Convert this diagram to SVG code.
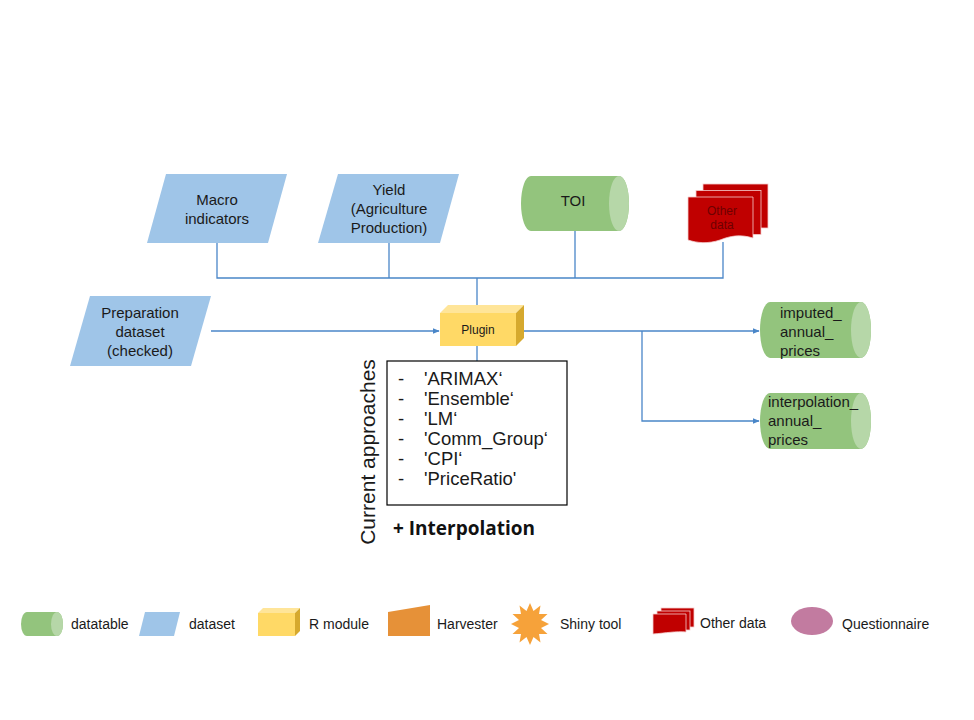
<svg xmlns="http://www.w3.org/2000/svg" width="974" height="720" viewBox="0 0 974 720">
<defs>
<style>
.t{font-family:"Liberation Sans",Arial,sans-serif;fill:#1a1a1a}
.ds{fill:#9fc5e8}
.cyl{fill:#93c47d}
.cylend{fill:#b6d7a8}
.con{fill:none;stroke:#4a86c8;stroke-width:1.3}
.red{fill:#c00000;stroke:#f4cccc;stroke-width:0.8}
</style>
<marker id="ar" viewBox="0 0 10 10" refX="9" refY="5" markerWidth="7" markerHeight="7" orient="auto" markerUnits="userSpaceOnUse">
<path d="M0,1 L10,5 L0,9 Z" fill="#4a86c8"/>
</marker>
</defs>
<rect width="974" height="720" fill="#fff"/>

<g id="connectors">
<path class="con" d="M217,243 V278 H723 V242"/>
<path class="con" d="M389,243 V278"/>
<path class="con" d="M575,231 V278"/>
<path class="con" d="M477,278 V312" marker-end="url(#ar)"/>
<path class="con" d="M211,331 H439" marker-end="url(#ar)"/>
<path class="con" d="M516,331 H759" marker-end="url(#ar)"/>
<path class="con" d="M642,331 V421 H759" marker-end="url(#ar)"/>
<path class="con" d="M477,346 V361"/>
</g>

<g id="macro">
<polygon class="ds" points="166,174 287,174 268,243 147,243"/>
<text class="t" font-size="15" text-anchor="middle" x="217" y="205">Macro</text>
<text class="t" font-size="15" text-anchor="middle" x="217" y="224">indicators</text>
</g>

<g id="yield">
<polygon class="ds" points="338,174 459,174 440,243 318,243"/>
<text class="t" font-size="15" text-anchor="middle" x="389" y="195">Yield</text>
<text class="t" font-size="15" text-anchor="middle" x="389" y="214">(Agriculture</text>
<text class="t" font-size="15" text-anchor="middle" x="389" y="233">Production)</text>
</g>

<g id="toi">
<path class="cyl" d="M531,176 H619 A10,27.5 0 0 1 619,231 H531 A10,27.5 0 0 1 531,176 Z"/>
<ellipse class="cylend" cx="619" cy="203.5" rx="10" ry="27.5"/>
<text class="t" font-size="15" text-anchor="middle" x="573" y="206">TOI</text>
</g>

<g id="otherdata">
<rect class="red" x="703" y="184" width="65" height="44"/>
<rect class="red" x="696" y="190.5" width="65" height="44"/>
<path class="red" d="M688,197 H753 V238 C740,234 730,236 720,240 C708,244 697,243 688,240 Z"/>
<text font-family="Liberation Sans,Arial,sans-serif" font-size="12" fill="#6e0000" text-anchor="middle" x="722" y="215">Other</text>
<text font-family="Liberation Sans,Arial,sans-serif" font-size="12" fill="#6e0000" text-anchor="middle" x="722" y="229">data</text>
</g>

<g id="preparation">
<polygon class="ds" points="90,296 211,296 191,366 70,366"/>
<text class="t" font-size="15" text-anchor="middle" x="140" y="318">Preparation</text>
<text class="t" font-size="15" text-anchor="middle" x="140" y="337">dataset</text>
<text class="t" font-size="15" text-anchor="middle" x="140" y="356">(checked)</text>
</g>

<g id="plugin">
<polygon points="440,313 448,305 524,305 516,313" fill="#ffe599"/>
<polygon points="516,313 524,305 524,338 516,346" fill="#d6a92e"/>
<rect x="440" y="313" width="76" height="33" fill="#ffd966"/>
<text class="t" font-size="12" text-anchor="middle" x="478" y="334">Plugin</text>
</g>

<g id="imputed">
<path class="cyl" d="M770,302 H861 A10,28 0 0 1 861,358 H770 A10,28 0 0 1 770,302 Z"/>
<ellipse class="cylend" cx="861" cy="330" rx="10" ry="28"/>
<text class="t" font-size="15" x="780" y="318">imputed_</text>
<text class="t" font-size="15" x="780" y="337">annual_</text>
<text class="t" font-size="15" x="780" y="356">prices</text>
</g>

<g id="interpolation">
<path class="cyl" d="M770,393 H861 A10,28 0 0 1 861,449 H770 A10,28 0 0 1 770,393 Z"/>
<ellipse class="cylend" cx="861" cy="421" rx="10" ry="28"/>
<text class="t" font-size="15" x="768" y="407">interpolation_</text>
<text class="t" font-size="15" x="768" y="426">annual_</text>
<text class="t" font-size="15" x="768" y="445">prices</text>
</g>

<g id="approaches">
<rect x="387" y="361" width="180" height="144" fill="#fff" stroke="#000" stroke-width="1.2"/>
<g class="t" font-size="18.5">
<text x="398" y="385">-</text><text x="424" y="385">'ARIMAX‘</text>
<text x="398" y="405">-</text><text x="424" y="405">'Ensemble‘</text>
<text x="398" y="425">-</text><text x="424" y="425">'LM‘</text>
<text x="398" y="445">-</text><text x="424" y="445">'Comm_Group‘</text>
<text x="398" y="465">-</text><text x="424" y="465">'CPI‘</text>
<text x="398" y="485">-</text><text x="424" y="485">'PriceRatio'</text>
</g>
<text class="t" font-size="21" text-anchor="middle" transform="translate(375,452) rotate(-90)">Current approaches</text>
<text font-family="Open Sans,Liberation Sans,sans-serif" font-weight="bold" font-size="19" fill="#111" x="393" y="535">+ Interpolation</text>
</g>

<g id="legend">
<path class="cyl" d="M27,612 H57 A6,12 0 0 1 57,636 H27 A6,12 0 0 1 27,612 Z"/>
<ellipse class="cylend" cx="57" cy="624" rx="6" ry="12"/>
<text class="t" font-size="14" x="71" y="629">datatable</text>
<polygon class="ds" points="145,612 180,612 174,636 139,636"/>
<text class="t" font-size="14" x="189" y="629">dataset</text>
<polygon points="258,613 263,608 300,608 295,613" fill="#ffe599"/>
<polygon points="295,613 300,608 300,631 295,636" fill="#d6a92e"/>
<rect x="258" y="613" width="37" height="23" fill="#ffd966"/>
<text class="t" font-size="14" x="309" y="629">R module</text>
<polygon points="388,612 430,605 430,636 388,636" fill="#e69138"/>
<text class="t" font-size="14" x="437" y="629">Harvester</text>
<polygon fill="#f6a23a" points="530,603 533.5,611 540.5,605.5 539,614 547.5,614 541,620 549,624 541,628 547.5,634 539,634 540.5,642.5 533.5,637 530,645 526.5,637 519.5,642.5 521,634 512.5,634 519,628 511,624 519,620 512.5,614 521,614 519.5,605.5 526.5,611"/>
<text class="t" font-size="14" x="560" y="629">Shiny tool</text>
<rect class="red" x="661" y="608" width="33" height="19"/>
<rect class="red" x="657" y="611" width="33" height="19"/>
<path class="red" d="M653,614 H686 V632 C676,631 666,633 653,634 Z"/>
<text class="t" font-size="14" x="700" y="628">Other data</text>
<ellipse cx="812" cy="621" rx="21" ry="14" fill="#c27ba0"/>
<text class="t" font-size="14" x="842" y="629">Questionnaire</text>
</g>
</svg>
